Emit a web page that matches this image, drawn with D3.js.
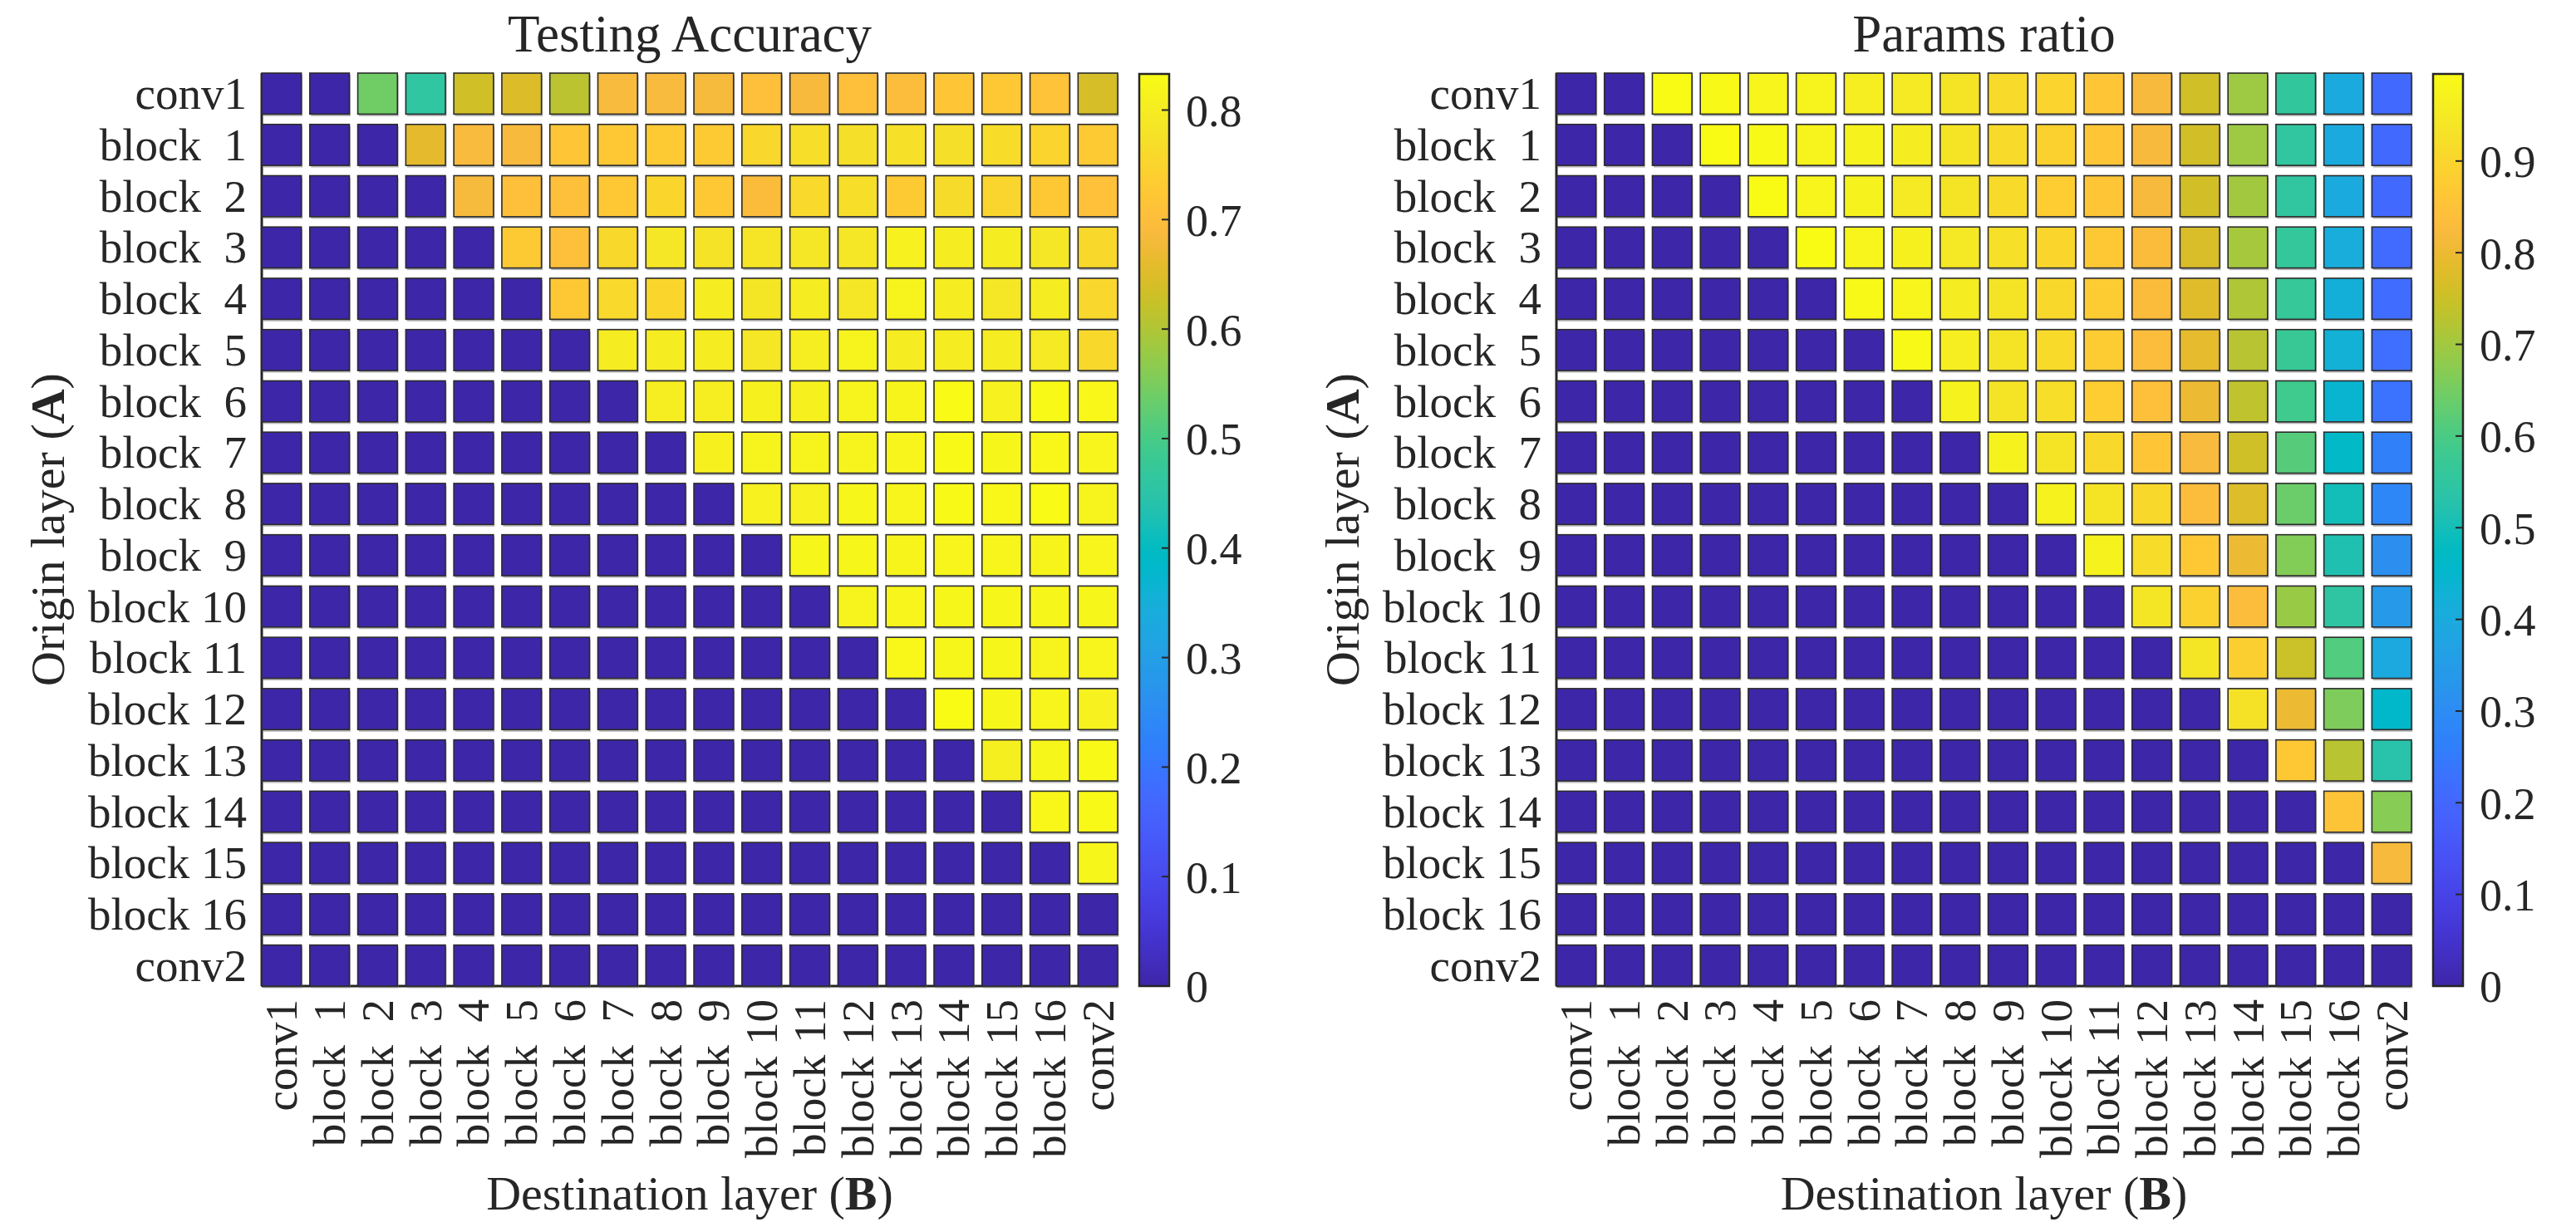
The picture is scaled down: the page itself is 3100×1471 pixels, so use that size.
<!DOCTYPE html>
<html>
<head>
<meta charset="utf-8">
<script src="https://cdn.jsdelivr.net/npm/d3@7"></script>
<style>
  html, body { margin: 0; padding: 0; background: #ffffff; }
  svg text { font-family: "Liberation Serif", "Times New Roman", serif; fill: #262626; white-space: pre; }
</style>
</head>
<body>
<svg id="chart" width="3100" height="1471"></svg>
<script>
// ---------------- data ----------------
const layerLabels = ["conv1", "block  1", "block  2", "block  3", "block  4", "block  5", "block  6",
  "block  7", "block  8", "block  9", "block 10", "block 11", "block 12", "block 13", "block 14",
  "block 15", "block 16", "conv2"];

const accuracy = [
  [0, 0, 0.54, 0.46, 0.635, 0.648, 0.61, 0.69, 0.69, 0.685, 0.705, 0.688, 0.705, 0.698, 0.72, 0.725, 0.715, 0.64],
  [0, 0, 0, 0.66, 0.69, 0.688, 0.72, 0.725, 0.73, 0.73, 0.755, 0.77, 0.772, 0.775, 0.772, 0.768, 0.75, 0.73],
  [0, 0, 0, 0, 0.685, 0.705, 0.703, 0.725, 0.753, 0.725, 0.695, 0.76, 0.77, 0.73, 0.765, 0.752, 0.725, 0.71],
  [0, 0, 0, 0, 0, 0.73, 0.705, 0.757, 0.79, 0.78, 0.785, 0.79, 0.79, 0.81, 0.8, 0.8, 0.79, 0.757],
  [0, 0, 0, 0, 0, 0, 0.725, 0.76, 0.753, 0.8, 0.787, 0.8, 0.79, 0.815, 0.8, 0.79, 0.8, 0.755],
  [0, 0, 0, 0, 0, 0, 0, 0.8, 0.8, 0.8, 0.79, 0.805, 0.815, 0.8, 0.8, 0.8, 0.795, 0.757],
  [0, 0, 0, 0, 0, 0, 0, 0, 0.805, 0.805, 0.808, 0.808, 0.815, 0.818, 0.83, 0.81, 0.828, 0.825],
  [0, 0, 0, 0, 0, 0, 0, 0, 0, 0.808, 0.815, 0.815, 0.815, 0.82, 0.828, 0.823, 0.825, 0.82],
  [0, 0, 0, 0, 0, 0, 0, 0, 0, 0, 0.81, 0.81, 0.823, 0.82, 0.828, 0.825, 0.83, 0.815],
  [0, 0, 0, 0, 0, 0, 0, 0, 0, 0, 0, 0.823, 0.823, 0.818, 0.82, 0.82, 0.818, 0.82],
  [0, 0, 0, 0, 0, 0, 0, 0, 0, 0, 0, 0, 0.815, 0.82, 0.823, 0.823, 0.823, 0.823],
  [0, 0, 0, 0, 0, 0, 0, 0, 0, 0, 0, 0, 0, 0.825, 0.823, 0.823, 0.815, 0.82],
  [0, 0, 0, 0, 0, 0, 0, 0, 0, 0, 0, 0, 0, 0, 0.832, 0.823, 0.82, 0.81],
  [0, 0, 0, 0, 0, 0, 0, 0, 0, 0, 0, 0, 0, 0, 0, 0.806, 0.823, 0.828],
  [0, 0, 0, 0, 0, 0, 0, 0, 0, 0, 0, 0, 0, 0, 0, 0, 0.825, 0.828],
  [0, 0, 0, 0, 0, 0, 0, 0, 0, 0, 0, 0, 0, 0, 0, 0, 0, 0.823],
  [0, 0, 0, 0, 0, 0, 0, 0, 0, 0, 0, 0, 0, 0, 0, 0, 0, 0],
  [0, 0, 0, 0, 0, 0, 0, 0, 0, 0, 0, 0, 0, 0, 0, 0, 0, 0]
];

const paramsRatio = [
  [0, 0, 0.995, 0.99, 0.98, 0.975, 0.96, 0.95, 0.935, 0.91, 0.895, 0.86, 0.82, 0.758, 0.695, 0.556, 0.4, 0.205],
  [0, 0, 0, 0.995, 0.99, 0.975, 0.97, 0.955, 0.935, 0.91, 0.89, 0.86, 0.82, 0.76, 0.695, 0.553, 0.4, 0.205],
  [0, 0, 0, 0, 0.995, 0.98, 0.97, 0.95, 0.935, 0.91, 0.88, 0.86, 0.82, 0.76, 0.7, 0.553, 0.4, 0.205],
  [0, 0, 0, 0, 0, 0.995, 0.98, 0.965, 0.945, 0.925, 0.9, 0.865, 0.83, 0.77, 0.705, 0.56, 0.41, 0.21],
  [0, 0, 0, 0, 0, 0, 0.99, 0.98, 0.955, 0.935, 0.905, 0.875, 0.83, 0.78, 0.715, 0.565, 0.42, 0.215],
  [0, 0, 0, 0, 0, 0, 0, 0.99, 0.96, 0.935, 0.91, 0.875, 0.835, 0.79, 0.725, 0.57, 0.425, 0.22],
  [0, 0, 0, 0, 0, 0, 0, 0, 0.97, 0.935, 0.92, 0.88, 0.84, 0.8, 0.735, 0.585, 0.44, 0.23],
  [0, 0, 0, 0, 0, 0, 0, 0, 0, 0.97, 0.935, 0.905, 0.86, 0.825, 0.755, 0.615, 0.465, 0.265],
  [0, 0, 0, 0, 0, 0, 0, 0, 0, 0, 0.97, 0.935, 0.905, 0.835, 0.775, 0.64, 0.5, 0.285],
  [0, 0, 0, 0, 0, 0, 0, 0, 0, 0, 0, 0.97, 0.915, 0.865, 0.8, 0.665, 0.515, 0.31],
  [0, 0, 0, 0, 0, 0, 0, 0, 0, 0, 0, 0, 0.94, 0.89, 0.835, 0.69, 0.545, 0.34],
  [0, 0, 0, 0, 0, 0, 0, 0, 0, 0, 0, 0, 0, 0.94, 0.885, 0.75, 0.61, 0.395],
  [0, 0, 0, 0, 0, 0, 0, 0, 0, 0, 0, 0, 0, 0, 0.93, 0.8, 0.66, 0.458],
  [0, 0, 0, 0, 0, 0, 0, 0, 0, 0, 0, 0, 0, 0, 0, 0.865, 0.725, 0.53],
  [0, 0, 0, 0, 0, 0, 0, 0, 0, 0, 0, 0, 0, 0, 0, 0, 0.855, 0.67],
  [0, 0, 0, 0, 0, 0, 0, 0, 0, 0, 0, 0, 0, 0, 0, 0, 0, 0.82],
  [0, 0, 0, 0, 0, 0, 0, 0, 0, 0, 0, 0, 0, 0, 0, 0, 0, 0],
  [0, 0, 0, 0, 0, 0, 0, 0, 0, 0, 0, 0, 0, 0, 0, 0, 0, 0]
];

const accuracyTicks = [0, 0.1, 0.2, 0.3, 0.4, 0.5, 0.6, 0.7, 0.8];
const paramsTicks = [0, 0.1, 0.2, 0.3, 0.4, 0.5, 0.6, 0.7, 0.8, 0.9];
const accuracyMax = 0.833;
const paramsMax = 0.995;

// MATLAB parula (64 entries)
const parula = [
[0.2422,0.1504,0.6603],[0.2504,0.1650,0.7076],[0.2578,0.1818,0.7511],[0.2647,0.1978,0.7952],
[0.2706,0.2147,0.8364],[0.2751,0.2342,0.8710],[0.2783,0.2559,0.8991],[0.2803,0.2782,0.9221],
[0.2813,0.3006,0.9414],[0.2810,0.3228,0.9579],[0.2795,0.3447,0.9717],[0.2760,0.3667,0.9829],
[0.2699,0.3892,0.9906],[0.2602,0.4123,0.9952],[0.2440,0.4358,0.9988],[0.2206,0.4603,0.9973],
[0.1963,0.4847,0.9892],[0.1834,0.5074,0.9798],[0.1786,0.5289,0.9682],[0.1764,0.5499,0.9520],
[0.1687,0.5703,0.9359],[0.1540,0.5902,0.9218],[0.1460,0.6091,0.9079],[0.1380,0.6276,0.8973],
[0.1248,0.6459,0.8883],[0.1113,0.6635,0.8763],[0.0952,0.6798,0.8598],[0.0689,0.6948,0.8394],
[0.0297,0.7082,0.8163],[0.0036,0.7203,0.7917],[0.0067,0.7312,0.7660],[0.0433,0.7411,0.7394],
[0.0964,0.7500,0.7120],[0.1408,0.7584,0.6842],[0.1717,0.7670,0.6554],[0.1938,0.7758,0.6251],
[0.2161,0.7843,0.5923],[0.2470,0.7918,0.5567],[0.2906,0.7973,0.5188],[0.3406,0.8008,0.4789],
[0.3909,0.8029,0.4354],[0.4456,0.8024,0.3909],[0.5044,0.7993,0.3480],[0.5616,0.7942,0.3045],
[0.6174,0.7876,0.2612],[0.6720,0.7793,0.2227],[0.7242,0.7698,0.1910],[0.7738,0.7598,0.1646],
[0.8203,0.7498,0.1535],[0.8634,0.7406,0.1596],[0.9035,0.7330,0.1774],[0.9393,0.7288,0.2100],
[0.9728,0.7298,0.2394],[0.9956,0.7434,0.2371],[0.9970,0.7659,0.2199],[0.9952,0.7893,0.2028],
[0.9892,0.8136,0.1885],[0.9786,0.8386,0.1766],[0.9676,0.8639,0.1643],[0.9610,0.8890,0.1537],
[0.9597,0.9135,0.1423],[0.9628,0.9373,0.1265],[0.9691,0.9606,0.1064],[0.9769,0.9839,0.0805]
].map(c => d3.rgb(c[0]*255, c[1]*255, c[2]*255).formatHex());

const parulaInterp = d3.interpolateRgbBasis ? d3.piecewise(d3.interpolateRgb, parula) : null;

// ---------------- layout ----------------
const svg = d3.select("#chart");
const Y0 = 88, Y1 = 1187;
const FONT_TICK = 54, FONT_LABEL = 55, FONT_AXIS = 58, FONT_TITLE = 63;

const panels = [
  { title: "Testing Accuracy", data: accuracy, max: accuracyMax, ticks: accuracyTicks, x0: 315, x1: 1345, cbx: 1371 },
  { title: "Params ratio", data: paramsRatio, max: paramsMax, ticks: paramsTicks, x0: 1873, x1: 2902, cbx: 2928 }
];

panels.forEach((p, pi) => {
  const g = svg.append("g");
  const x = d3.scaleBand().domain(d3.range(layerLabels.length)).range([p.x0, p.x1]).paddingInner(0.175).paddingOuter(0);
  const y = d3.scaleBand().domain(d3.range(layerLabels.length)).range([Y0, Y1]).paddingInner(0.2).paddingOuter(0);
  const color = d3.scaleSequential(t => parulaInterp(t)).domain([0, p.max]).clamp(true);

  // axis lines
  g.append("line").attr("x1", p.x0).attr("x2", p.x0).attr("y1", Y0).attr("y2", Y1)
    .attr("stroke", "#262626").attr("stroke-width", 3);
  g.append("line").attr("x1", p.x0).attr("x2", p.x1).attr("y1", Y1).attr("y2", Y1)
    .attr("stroke", "#262626").attr("stroke-width", 3);

  const cells = [];
  p.data.forEach((row, i) => row.forEach((v, j) => cells.push({ i, j, v })));

  // shadows
  g.append("g").selectAll("rect").data(cells).join("rect")
    .attr("x", d => x(d.j) + 1.5).attr("y", d => y(d.i) + 2.5)
    .attr("width", x.bandwidth()).attr("height", y.bandwidth())
    .attr("fill", "#808080").attr("opacity", 0.55);
  // cells
  g.append("g").selectAll("rect").data(cells).join("rect")
    .attr("x", d => x(d.j)).attr("y", d => y(d.i))
    .attr("width", x.bandwidth()).attr("height", y.bandwidth())
    .attr("fill", d => color(d.v))
    .attr("stroke", "#2b2b2b").attr("stroke-width", 1.6);

  // row labels
  g.append("g").selectAll("text").data(layerLabels).join("text")
    .attr("x", p.x0 - 18).attr("y", (d, i) => y(i) + y.bandwidth() / 2)
    .attr("text-anchor", "end").attr("dominant-baseline", "central")
    .attr("font-size", FONT_LABEL).text(d => d);

  // column labels (rotated)
  g.append("g").selectAll("text").data(layerLabels).join("text")
    .attr("transform", (d, j) => `translate(${x(j) + x.bandwidth() / 2},${Y1 + 16}) rotate(-90)`)
    .attr("text-anchor", "end").attr("dominant-baseline", "central")
    .attr("font-size", FONT_LABEL).text(d => d);

  // axis titles
  const yl = g.append("text")
    .attr("transform", `translate(${p.x0 - 258},${(Y0 + Y1) / 2}) rotate(-90)`)
    .attr("text-anchor", "middle").attr("dominant-baseline", "central")
    .attr("font-size", FONT_AXIS);
  yl.append("tspan").text("Origin layer (");
  yl.append("tspan").attr("font-weight", "bold").text("A");
  yl.append("tspan").text(")");

  const xl = g.append("text")
    .attr("x", (p.x0 + p.x1) / 2).attr("y", 1456)
    .attr("text-anchor", "middle")
    .attr("font-size", FONT_AXIS);
  xl.append("tspan").text("Destination layer (");
  xl.append("tspan").attr("font-weight", "bold").text("B");
  xl.append("tspan").text(")");

  // title
  g.append("text").attr("x", (p.x0 + p.x1) / 2).attr("y", 62)
    .attr("text-anchor", "middle").attr("font-size", FONT_TITLE).text(p.title);

  // colorbar
  const cbW = 36;
  const cy = d3.scaleLinear().domain([0, p.max]).range([Y1, Y0 + 1]);
  const gradId = "grad" + pi;
  const grad = svg.append("defs").append("linearGradient").attr("id", gradId)
    .attr("x1", 0).attr("x2", 0).attr("y1", 1).attr("y2", 0);
  parula.forEach((c, k) => grad.append("stop").attr("offset", k / (parula.length - 1)).attr("stop-color", c));
  g.append("rect").attr("x", p.cbx).attr("y", cy(p.max)).attr("width", cbW).attr("height", cy(0) - cy(p.max))
    .attr("fill", `url(#${gradId})`).attr("stroke", "#262626").attr("stroke-width", 2.5);

  const cbAxis = d3.axisRight(cy).tickValues(p.ticks).tickSize(0).tickFormat(d => d === 0 ? "0" : d3.format(".1f")(d));
  const ag = g.append("g").attr("transform", `translate(${p.cbx + cbW},0)`).call(cbAxis);
  ag.select(".domain").remove();
  ag.selectAll(".tick line").remove();
  ag.selectAll(".tick text").attr("x", 20).attr("font-size", FONT_TICK)
    .attr("font-family", "Liberation Serif").attr("fill", "#262626").attr("dy", "0.35em");
  g.append("g").selectAll("line").data(p.ticks.filter(t => t > 0)).join("line")
    .attr("x1", p.cbx + cbW - 9).attr("x2", p.cbx + cbW)
    .attr("y1", d => cy(d)).attr("y2", d => cy(d))
    .attr("stroke", "#262626").attr("stroke-width", 2);
});
</script>
</body>
</html>
